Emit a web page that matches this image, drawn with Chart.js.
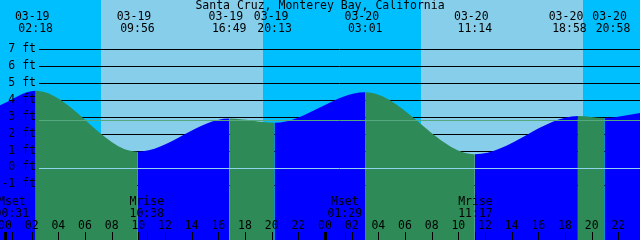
<!DOCTYPE html>
<html>
<head>
<meta charset="utf-8">
<script src="https://cdn.jsdelivr.net/npm/chart.js@4.4.1/dist/chart.umd.min.js"></script>
<style>
  html, body { margin: 0; padding: 0; background: #00bfff; }
  #wrap { width: 640px; height: 240px; }
</style>
</head>
<body>
<div id="wrap"><canvas id="tide" width="640" height="240"></canvas></div>
<script>
const stationName = 'Santa Cruz, Monterey Bay, California';

// heures comptées depuis 03-19 00:00 (les deux extrêmes = bords de la fenêtre)
const tideHours = [-0.375, 2.30, 9.933, 16.817, 20.217, 27.017, 35.233, 42.967, 44.967, 47.625];
const tideFeet  = [3.70, 4.56, 0.96, 2.92, 2.67, 4.47, 0.81, 3.07, 2.95, 3.24];

// marées étiquetées en haut (sans les bords)
const eventHours = [2.30, 9.933, 16.817, 20.217, 27.017, 35.233, 42.967, 44.967];
const eventDates = ['03-19', '03-19', '03-19', '03-19', '03-20', '03-20', '03-20', '03-20'];
const eventTimes = ['02:18', '09:56', '16:49', '20:13', '03:01', '11:14', '18:58', '20:58'];

// lever, coucher, lever, coucher
const sunHours = [7.2, 19.35, 31.2, 43.35];

const moonHours = [0.517, 10.633, 25.483, 35.283];
const moonNames = ['Mset', 'Mrise', 'Mset', 'Mrise'];
const moonTimes = ['00:31', '10:38', '01:29', '11:17'];

const hourTicks  = [0, 2, 4, 6, 8, 10, 12, 14, 16, 18, 20, 22, 24, 26, 28, 30, 32, 34, 36, 38, 40, 42, 44, 46];
const hourLabels = ['00', '02', '04', '06', '08', '10', '12', '14', '16', '18', '20', '22',
                    '00', '02', '04', '06', '08', '10', '12', '14', '16', '18', '20', '22'];
const midnights = [0, 24];

const depthLevels = [7, 6, 5, 4, 3, 2, 1, 0, -1];
const depthLabels = ['7 ft', '6 ft', '5 ft', '4 ft', '3 ft', '2 ft', '1 ft', '0 ft', '-1 ft'];
const meanLevel = 2.81;

const NIGHT = '#00bfff';
const DAY = '#87ceeb';
const RISING = '#0000ff';
const FALLING = '#2e8b57';
const FONT = '11.5px "DejaVu Sans Mono", monospace';

function hline(ctx, y, x0, x1, color) {
    const yy = Math.round(y) + 0.5;
    ctx.strokeStyle = color;
    ctx.lineWidth = 1;
    ctx.beginPath();
    ctx.moveTo(x0, yy);
    ctx.lineTo(x1, yy);
    ctx.stroke();
}

// écarte les étiquettes qui se chevauchent
function spread(centers, minGap) {
    const out = centers.slice();
    for (let i = 0; i < out.length - 1; i++) {
        const d = out[i + 1] - out[i];
        if (d < minGap) {
            out[i] -= (minGap - d) / 2;
            out[i + 1] += (minGap - d) / 2;
        }
    }
    return out;
}

const decor = {
    id: 'decor',
    beforeDatasetsDraw(chart) {
        const ctx = chart.ctx;
        const x = chart.scales.x, y = chart.scales.y;
        const area = chart.chartArea;
        // bandes jour / nuit
        const edges = [x.min, ...sunHours, x.max];
        for (let i = 0; i < edges.length - 1; i++) {
            const a = x.getPixelForValue(edges[i]);
            const b = x.getPixelForValue(edges[i + 1]);
            ctx.fillStyle = i % 2 === 0 ? NIGHT : DAY;
            ctx.fillRect(Math.round(a), area.top, Math.round(b) - Math.round(a), area.bottom - area.top);
        }
        // lignes de profondeur (cachées par l'eau)
        depthLevels.forEach(v => hline(ctx, y.getPixelForValue(v), 39, area.right, '#000'));
    },
    afterDatasetsDraw(chart) {
        const ctx = chart.ctx;
        const x = chart.scales.x, y = chart.scales.y;
        const area = chart.chartArea;

        hline(ctx, y.getPixelForValue(0), 39, area.right, '#8fd3ee');
        hline(ctx, y.getPixelForValue(meanLevel), 39, area.right, '#55a97f');

        ctx.font = FONT;
        ctx.fillStyle = '#000';
        ctx.textBaseline = 'middle';

        // étiquettes de hauteur
        ctx.textAlign = 'right';
        depthLevels.forEach((v, i) => {
            ctx.fillText(depthLabels[i], 36, y.getPixelForValue(v) - 0.5);
        });

        // titre
        ctx.textAlign = 'center';
        ctx.fillText(stationName, (area.left + area.right) / 2, 6);

        // marées
        const half = ctx.measureText(' ').width / 2;
        const centers = spread(eventHours.map(h => x.getPixelForValue(h)), ctx.measureText('00:00 ').width + 2);
        centers.forEach((px, i) => {
            ctx.fillText(eventDates[i], px - half, 17.5);
            ctx.fillText(eventTimes[i], px, 29.5);
        });

        // lune
        moonHours.forEach((h, i) => {
            const px = x.getPixelForValue(h);
            ctx.fillText(moonNames[i], px, 202.5);
            ctx.fillText(moonTimes[i], px, 214);
            ctx.fillRect(Math.round(px), 232, 1, 8);
        });

        // heures
        hourTicks.forEach((h, i) => {
            const px = x.getPixelForValue(h);
            ctx.fillText(hourLabels[i], px, 226);
            ctx.fillRect(Math.round(px), 232, 1, 8);
        });
        midnights.forEach(h => {
            const px = x.getPixelForValue(h);
            ctx.fillRect(Math.round(px) - 1, 232, 3, 8);
        });
    }
};

new Chart(document.getElementById('tide'), {
    type: 'line',
    data: {
        datasets: [{
            data: tideHours.map((h, i) => ({ x: h, y: tideFeet[i] })),
            cubicInterpolationMode: 'monotone',
            fill: 'start',
            borderColor: 'rgba(0,0,0,0)',
            borderWidth: 1,
            backgroundColor: RISING,
            pointRadius: 0,
            segment: {
                backgroundColor: c => c.p1.parsed.y >= c.p0.parsed.y ? RISING : FALLING
            }
        }]
    },
    options: {
        responsive: false,
        animation: false,
        devicePixelRatio: 1,
        layout: { padding: 0 },
        plugins: { legend: { display: false }, tooltip: { enabled: false } },
        scales: {
            x: { type: 'linear', min: -0.375, max: 47.625, display: false },
            y: { type: 'linear', min: -4.25, max: 9.91, display: false }
        }
    },
    plugins: [decor]
});
</script>
</body>
</html>
